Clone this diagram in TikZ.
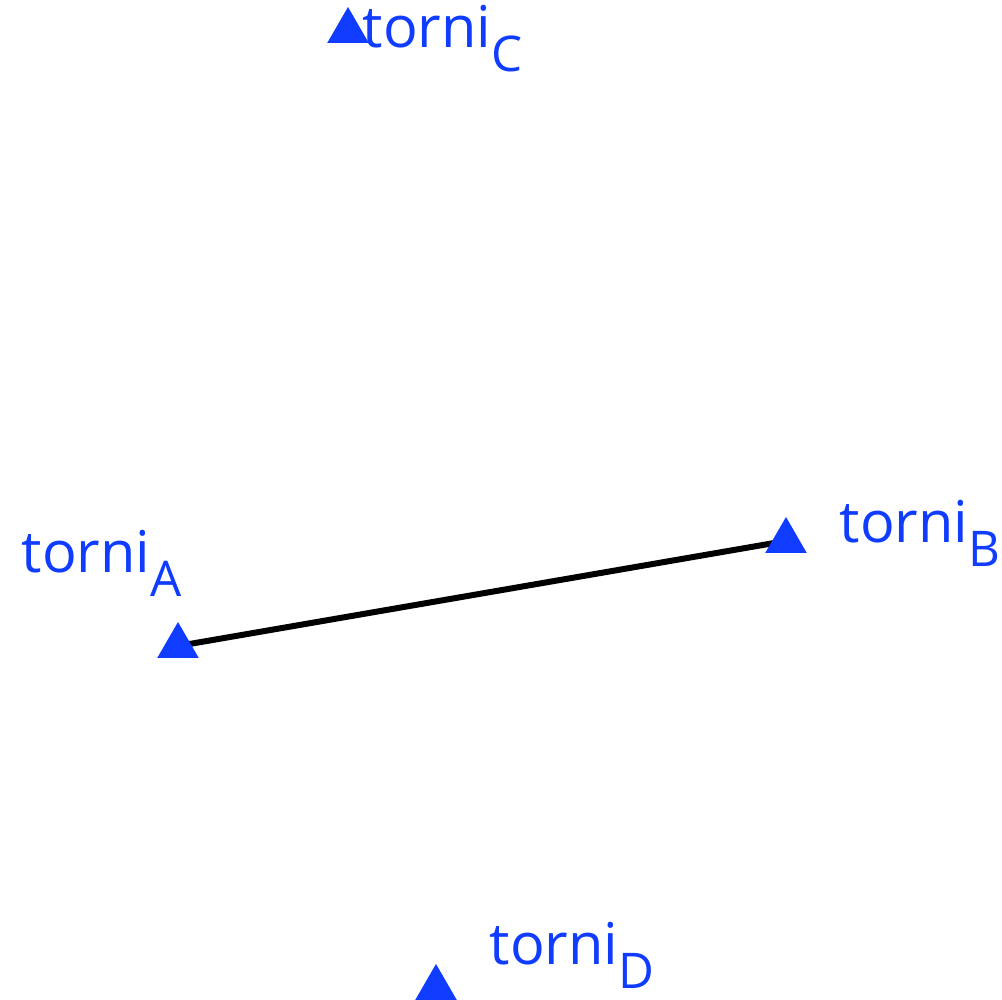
\documentclass[tikz,border=0pt]{standalone}
\usepackage{fontspec}
\setmainfont{Open Sans}
\usetikzlibrary{shapes.geometric,backgrounds}
\definecolor{towerblue}{HTML}{0F3CFF}
\newcommand{\torni}[1]{torni\raisebox{-6.8pt}{\fontsize{14pt}{15pt}\selectfont #1}}
\tikzset{
  every node/.style={font=\fontsize{16.4pt}{18pt}\selectfont},
  tower/.style={regular polygon, regular polygon sides=3, fill=towerblue,
                draw=none, inner sep=0pt, minimum size=0.48cm},
  towerlbl/.style={anchor=base west, inner sep=0pt, text=towerblue},
  sightline/.style={draw=black, line width=0.06cm},
}
\begin{document}
\begin{tikzpicture}
\useasboundingbox (0,0) rectangle (10.02,10);

% --- towers ---
\node[tower] (tA) at (1.78,3.54) {};
\node[tower] (tB) at (7.86,4.59) {};
\node[tower] (tC) at (3.48,9.69) {};
\node[tower] (tD) at (4.36,0.12) {};

% --- labels ---
\node[towerlbl] (lA) at (0.21,4.27) {\torni{A}};
\node[towerlbl] (lB) at (8.39,4.57) {\torni{B}};
\node[towerlbl] (lC) at (3.62,9.52) {\torni{C}};
\node[towerlbl] (lD) at (4.89,0.35) {\torni{D}};

% --- line A to B, under the triangles ---
\begin{scope}[on background layer]
\draw[sightline] (tA.center) -- (tB.center);
\end{scope}

\end{tikzpicture}
\end{document}
